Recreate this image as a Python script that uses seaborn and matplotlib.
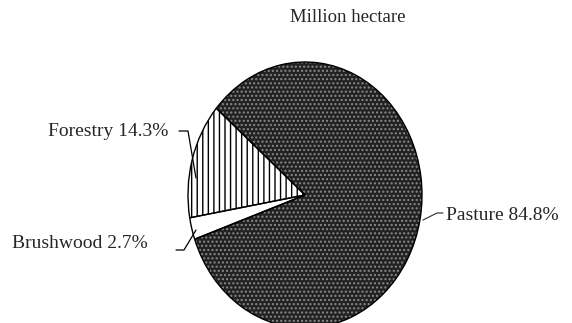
import numpy as np
import matplotlib.pyplot as plt
import seaborn as sns

# land use shares (Million hectare)
categories = ['Forestry', 'Brushwood', 'Pasture']
shares = [14.3, 2.7, 84.8]
labels = [f'{c} {v}%' for c, v in zip(categories, shares)]
title = 'Million hectare'

sns.set_style('white')
plt.rcParams['font.family'] = ['Liberation Serif', 'DejaVu Serif']
plt.rcParams['hatch.linewidth'] = 1.0

W, H = 572, 323
fig = plt.figure(figsize=(W / 100, H / 100), dpi=100)
ax = fig.add_axes([0, 0, 1, 1])

# pie centre / radii in pixels (the original is stretched vertically)
cx, cy, rx, ry = 305, 195, 117, 133


def px(x, y):
    return ((x - cx) / rx, (cy - y) / ry)


faces = ['white', 'white', '#222222']
hatches = ['|||', None, '....']
hatch_cols = ['black', 'white', '#8a8a8a']

wedges, _ = ax.pie(shares, startangle=139.3, counterclock=True,
                   colors=faces, wedgeprops=dict(linewidth=0))
for w, h, hc in zip(wedges, hatches, hatch_cols):
    w.set_edgecolor(hc)
    if h:
        w.set_hatch(h)

# outlines on top
ax.pie(shares, startangle=139.3, counterclock=True,
       wedgeprops=dict(fill=False, edgecolor='black', linewidth=1.0))

ax.set_aspect('auto')
ax.set_xlim(-cx / rx, (W - cx) / rx)
ax.set_ylim(-(H - cy) / ry, cy / ry)
ax.axis('off')

fs = 14
ax.text(*px(348, 17), title, ha='center', va='center', fontsize=fs - 0.5)

# Forestry label + leader
ax.text(*px(168, 131), labels[0], ha='right', va='center', fontsize=fs)
ax.plot(*zip(px(179, 131), px(188, 131), px(196, 178)), color='black', lw=0.9)

# Brushwood label + leader
ax.text(*px(148, 243), labels[1], ha='right', va='center', fontsize=fs)
ax.plot(*zip(px(176, 250), px(184, 250), px(196, 230)), color='black', lw=0.9)

# Pasture label + leader
ax.text(*px(446, 215), labels[2], ha='left', va='center', fontsize=fs)
ax.plot(*zip(px(423, 220), px(437, 213), px(443, 213)), color='#404040', lw=0.9)

fig.savefig('out.png', dpi=100)
